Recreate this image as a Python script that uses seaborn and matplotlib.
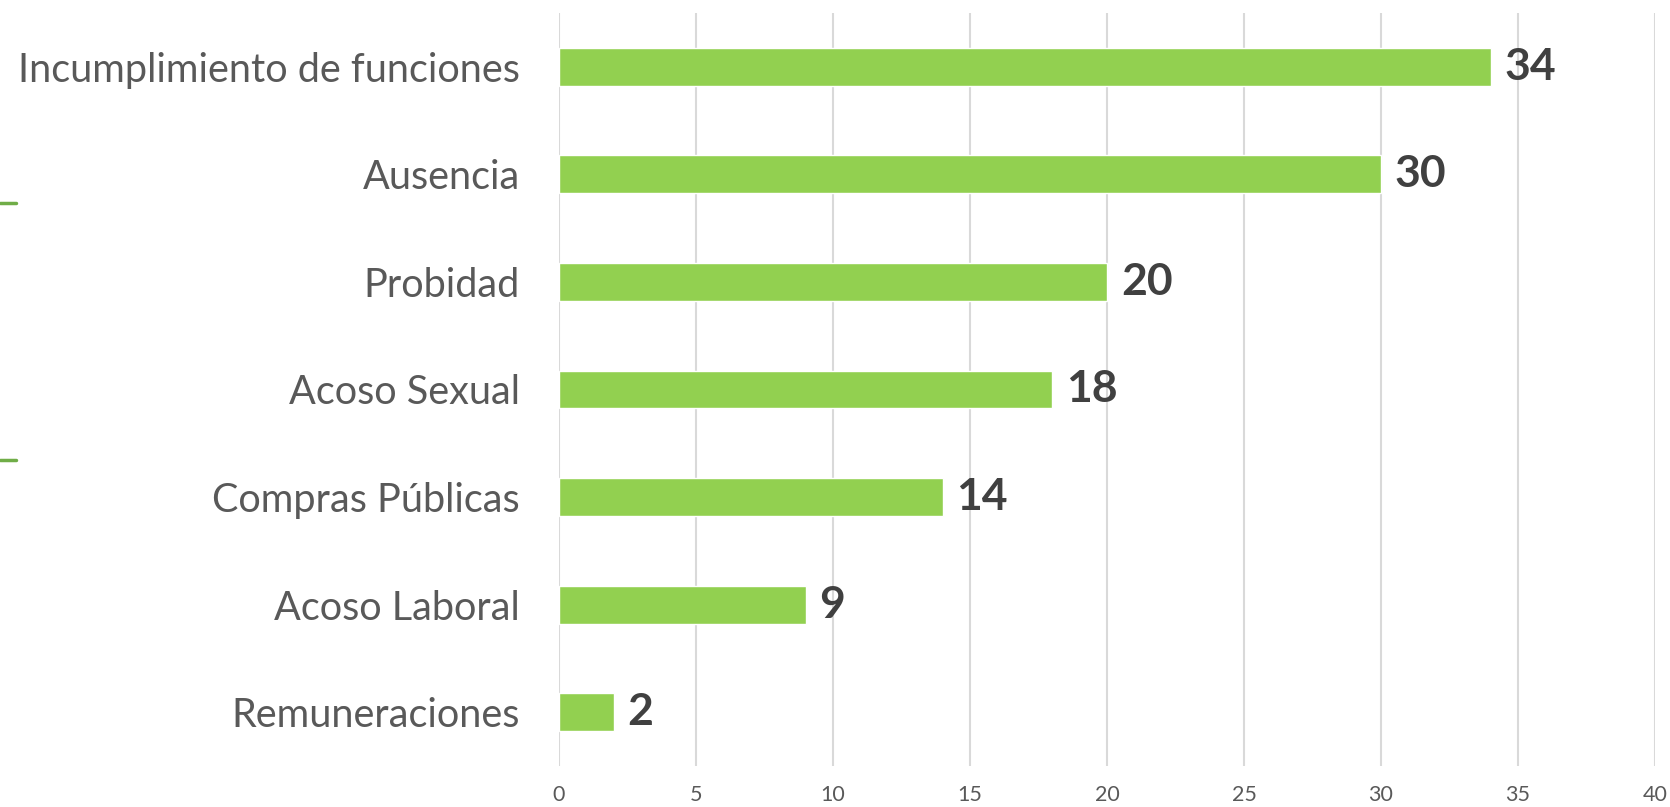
import matplotlib
matplotlib.use('Agg')
import matplotlib.pyplot as plt
import seaborn as sns
import pandas as pd

# Data
categories = ['Incumplimiento de funciones', 'Ausencia', 'Probidad', 'Acoso Sexual',
              'Compras Públicas', 'Acoso Laboral', 'Remuneraciones']
values = [34, 30, 20, 18, 14, 9, 2]
x_ticks = [0, 5, 10, 15, 20, 25, 30, 35, 40]

sns.set_theme(style='white')
plt.rcParams['font.family'] = ['Lato', 'DejaVu Sans']

df = pd.DataFrame({'categoria': categories, 'valor': values})

fig = plt.figure(figsize=(16.7, 8.07), dpi=100)
ax = fig.add_axes([0.3347, 0.0508, 0.6563, 0.9331])

sns.barplot(data=df, x='valor', y='categoria', orient='h', color='#92D050',
            saturation=1, width=0.353, ax=ax, zorder=3)

ax.set_xlim(0, 40)
ax.set_ylim(6.5, -0.5)
ax.set_xticks(x_ticks)
ax.set_xticklabels([str(t) for t in x_ticks], fontsize=15.5, color='#595959')
ax.tick_params(axis='x', length=0, pad=14)
ax.tick_params(axis='y', length=0, pad=28, labelsize=28.5, labelcolor='#595959')
ax.set_xlabel('')
ax.set_ylabel('')
ax.grid(axis='x', color='#d9d9d9', linewidth=1.5, zorder=0)
ax.grid(axis='y', visible=False)
for s in ax.spines.values():
    s.set_visible(False)

# value labels
for i, v in enumerate(values):
    ax.annotate(str(v), xy=(v, i), xytext=(10, 0), textcoords='offset points',
                ha='left', va='center', fontsize=32, fontweight='bold', color='#404040')

# small green marks at the left edge
for yy in [203, 460]:
    fig.add_artist(plt.Line2D([0, 16 / 1670], [1 - yy / 807, 1 - yy / 807],
                              color='#70AD47', linewidth=2.5, transform=fig.transFigure))

fig.savefig('out.png', dpi=100)
